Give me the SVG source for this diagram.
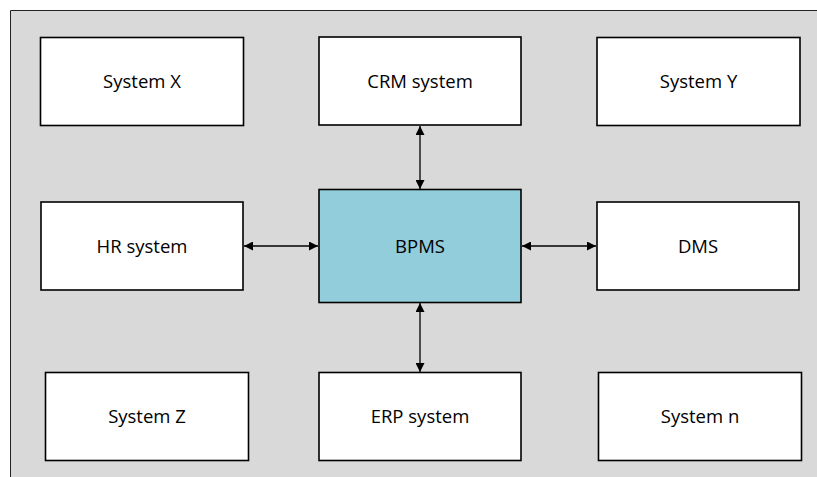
<svg xmlns="http://www.w3.org/2000/svg" width="817" height="477" viewBox="0 0 817 477">
  <defs>
    <marker id="arrow" viewBox="0 0 10 10" refX="10" refY="5" markerWidth="9" markerHeight="9" markerUnits="userSpaceOnUse" orient="auto-start-reverse">
      <path d="M0,0 L10,5 L0,10 Z" fill="#000"/>
    </marker>
  </defs>
  <style>
    .panel { fill: #d9d9d9; }
    .panel-edge { fill: none; stroke: #222; stroke-width: 1; }
    .box { fill: #ffffff; stroke: #000; stroke-width: 1.6; }
    .core { fill: #92cddc; stroke: #000; stroke-width: 1.6; }
    .label { font-family: "Open Sans", "Liberation Sans", sans-serif; font-size: 18.5px; fill: #000; text-anchor: middle; }
    .link { stroke: #000; stroke-width: 1.3; fill: none; marker-start: url(#arrow); marker-end: url(#arrow); }
  </style>

  <rect width="817" height="477" fill="#ffffff"/>
  <!-- background panel: only its top and left edges are outlined -->
  <rect class="panel" x="10.5" y="10.5" width="806.5" height="466.5"/>
  <path class="panel-edge" d="M10.5,477 V10.5 H817"/>

  <g id="connectors">
    <line class="link" x1="420" y1="126" x2="420" y2="189"/>
    <line class="link" x1="420" y1="303" x2="420" y2="372"/>
    <line class="link" x1="244" y1="246" x2="318" y2="246"/>
    <line class="link" x1="522" y1="246" x2="596" y2="246"/>
  </g>

  <g id="system-x">
    <rect class="box" x="40.5" y="37.5" width="203" height="88"/>
    <text class="label" x="142" y="88">System X</text>
  </g>
  <g id="crm-system">
    <rect class="box" x="319" y="37" width="202" height="88"/>
    <text class="label" x="420" y="87.5">CRM system</text>
  </g>
  <g id="system-y">
    <rect class="box" x="597" y="37.5" width="203" height="88"/>
    <text class="label" x="698.5" y="88">System Y</text>
  </g>
  <g id="hr-system">
    <rect class="box" x="41" y="202" width="202" height="88"/>
    <text class="label" x="142" y="252.5">HR system</text>
  </g>
  <g id="bpms">
    <rect class="core" x="319" y="189.5" width="202" height="113"/>
    <text class="label" x="420" y="252.5">BPMS</text>
  </g>
  <g id="dms">
    <rect class="box" x="597" y="202" width="202" height="88"/>
    <text class="label" x="698" y="252.5">DMS</text>
  </g>
  <g id="system-z">
    <rect class="box" x="45.5" y="372.5" width="203" height="88"/>
    <text class="label" x="147" y="423">System Z</text>
  </g>
  <g id="erp-system">
    <rect class="box" x="319" y="372.5" width="202" height="88"/>
    <text class="label" x="420" y="423">ERP system</text>
  </g>
  <g id="system-n">
    <rect class="box" x="598.5" y="372.5" width="203" height="88"/>
    <text class="label" x="700" y="423">System n</text>
  </g>
</svg>
